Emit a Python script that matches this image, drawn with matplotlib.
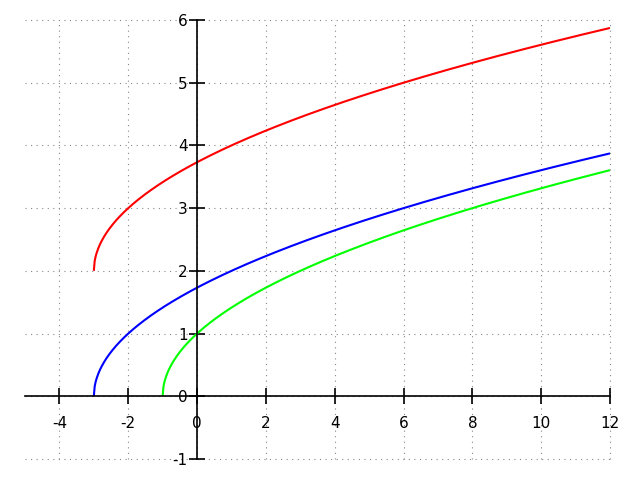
import numpy as np
import matplotlib
matplotlib.use("Agg")
import matplotlib.pyplot as plt

curve_names = ["red", "blue", "green"]
start_x = [-3, -3, -1]
start_y = [2, 0, 0]
end_x = 12
colors = ["#ff0000", "#0000ff", "#00ff00"]

x_ticks = [-4, -2, 0, 2, 4, 6, 8, 10, 12]
y_ticks = [-1, 0, 1, 2, 3, 4, 5, 6]

fig = plt.figure(figsize=(6.4, 4.8), dpi=100)
ax = fig.add_axes([25/640, 1-459/480, (610-25)/640, (459-20)/480])

for sx, sy, c in zip(start_x, start_y, colors):
    xs = np.linspace(sx, end_x, 600)
    ax.plot(xs, np.sqrt(xs - sx) + sy, color=c, lw=1.5, solid_capstyle='butt')

ax.set_xlim(-5, 12)
ax.set_ylim(-1, 6)
ax.spines['left'].set_position('zero')
ax.spines['bottom'].set_position('zero')
ax.spines['top'].set_visible(False)
ax.spines['right'].set_visible(False)
for s in ('left', 'bottom'):
    ax.spines[s].set_linewidth(1.2)
ax.set_xticks(x_ticks)
ax.set_yticks(y_ticks)
ax.set_xticklabels([str(t) for t in x_ticks])
ax.set_yticklabels([str(t) for t in y_ticks])
ax.tick_params(axis='both', direction='inout', length=11.5, width=1.2, labelsize=11)
ax.tick_params(axis='x', pad=8.5)
ax.tick_params(axis='y', pad=1)
ax.grid(True, color='#888888', linestyle=(0, (1, 4)), linewidth=0.8)
for gl in ax.get_xgridlines() + ax.get_ygridlines():
    gl.set_clip_on(False)
ax.set_axisbelow(True)

fig.savefig("out.png", dpi=100)
